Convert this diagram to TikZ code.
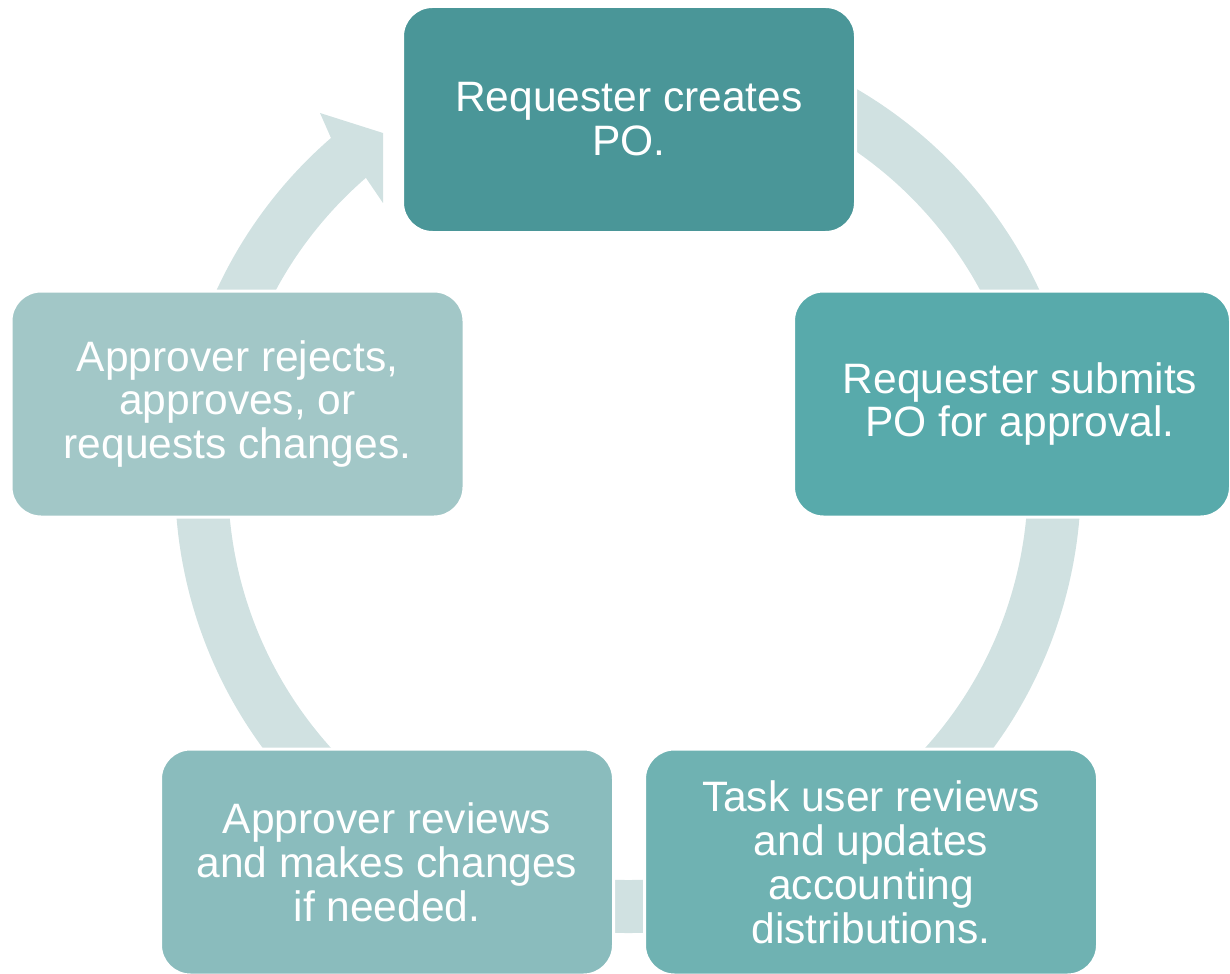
\documentclass[tikz,border=0pt]{standalone}
\usepackage{fontspec}
\setmainfont{Liberation Sans}
\usetikzlibrary{calc}
\definecolor{ringc}{HTML}{D0E1E1}
\definecolor{stepa}{HTML}{4A9698}
\definecolor{stepb}{HTML}{58AAAB}
\definecolor{stepc}{HTML}{6FB2B2}
\definecolor{stepd}{HTML}{8ABCBD}
\definecolor{stepe}{HTML}{A2C7C7}

\begin{document}
\begin{tikzpicture}[stage/.style={rounded corners=0.3cm, draw=white, line width=0.03cm, text=white, align=center, inner sep=0pt, minimum width=4.53cm, minimum height=2.26cm, font=\fontsize{12.1pt}{12.5pt}\selectfont}]
\useasboundingbox (0,0) rectangle (12.30,-9.73);
\coordinate (C) at (6.28,-4.80);
% ring and arrow head
\draw[ringc, line width=0.53cm] ($(C)+(130:4.265)$) arc[start angle=130, end angle=450, radius=4.265cm];
\fill[ringc] (3.31,-1.38) -- (3.20,-1.13) -- (3.83,-1.33) -- (3.83,-2.03) -- (3.66,-1.78) -- cycle;
% the five steps
\node[stage, fill=stepa] (create) at (6.29,-1.195) {Requester creates\\PO.};
\node[stage, fill=stepb, minimum width=4.37cm] (submit) at (10.12,-4.04) {\hspace*{0.16cm}Requester submits\\\hspace*{0.16cm}PO for approval.};
\node[stage, fill=stepc] (task) at (8.71,-8.62) {Task user reviews\\and updates\\accounting\\distributions.};
\node[stage, fill=stepd] (review) at (3.87,-8.62) {Approver reviews\\and makes changes\\if needed.};
\node[stage, fill=stepe] (decide) at (2.375,-4.04) {Approver rejects,\\approves, or\\requests changes.};
\end{tikzpicture}
\end{document}
